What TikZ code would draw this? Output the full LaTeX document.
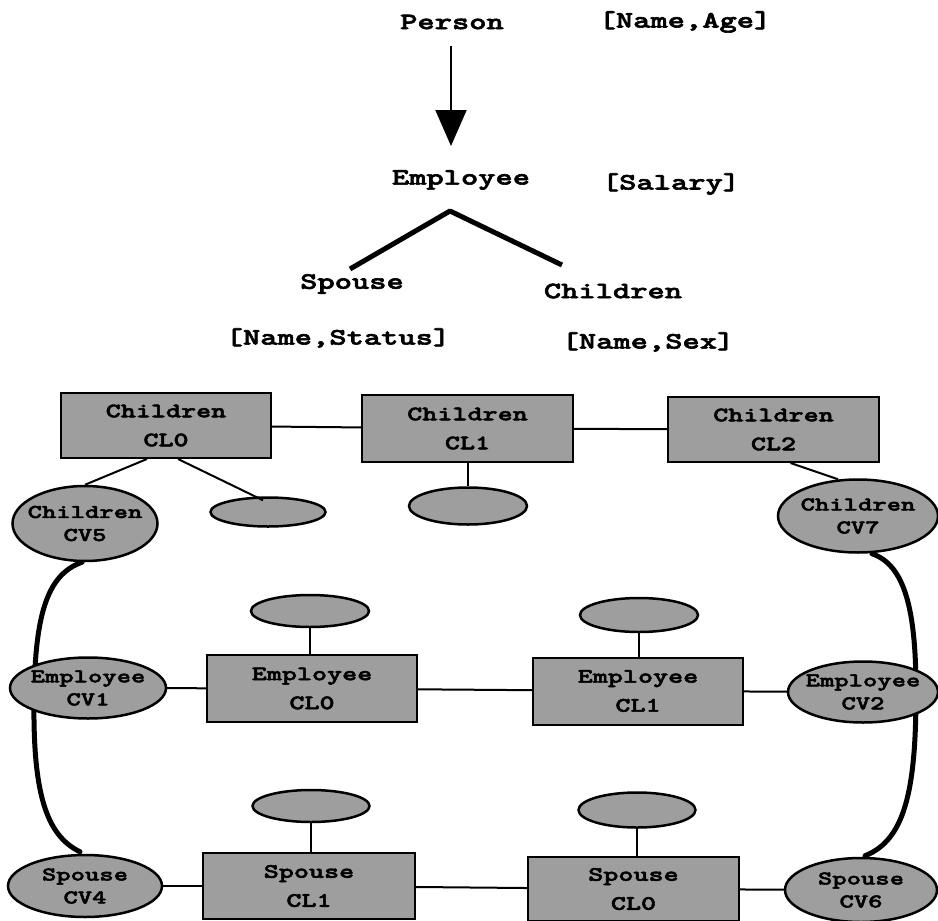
\documentclass[tikz,border=0pt]{standalone}
\usepackage{fontspec}
\newfontfamily\cour{lmmonolt10-bold.otf}[FakeStretch=1.4,FakeBold=2.5]
\usetikzlibrary{shapes.geometric,arrows.meta,backgrounds}
\definecolor{boxgray}{gray}{0.62}
\begin{document}
\begin{tikzpicture}[x=1pt,y=-1pt,
  lbl/.style={font=\cour\fontsize{23.5}{28}\selectfont, inner sep=0},
  cls/.style={draw, line width=2pt, fill=boxgray, inner sep=0, align=center,
    font=\cour\fontsize{20.5}{29}\selectfont},
  cv/.style={ellipse, draw, line width=2.5pt, fill=boxgray, inner sep=0},
  vtext/.style={align=center, inner sep=0, font=\cour\fontsize{19.5}{23}\selectfont},
  link/.style={line width=2pt},
  thick link/.style={line width=5pt, line cap=round}
]
\useasboundingbox (0,0) rectangle (938,921);

% ---- hierarchy at top ----
\node[lbl] (person) at (452,22) {Person};
\node[lbl] (nameage) at (685,22) {[Name,Age]};
\node[lbl] (employee) at (461,180) {Employee};
\node[lbl] (salary) at (671,184) {[Salary]};
\node[lbl] (spouse) at (352,284) {Spouse};
\node[lbl] (children) at (613,291) {Children};
\node[lbl] (namestatus) at (338,338) {[Name,Status]};
\node[lbl] (namesex) at (648,342) {[Name,Sex]};

\coordinate (a1) at (451,46);
\coordinate (a2) at (451,146);
\draw[line width=2pt, -{Triangle[length=36pt,width=31pt]}] (a1) -- (a2);

\coordinate (apex) at (450,211);
\coordinate (vl) at (350,269);
\coordinate (vr) at (562,265);
\draw[line width=5pt, line join=round] (vl) -- (apex) -- (vr);

% ---- row 1: Children classes ----
\node[cls, minimum width=210pt, minimum height=65pt] (ccl0) at (166,425.5) {Children\\CL0};
\node[cls, minimum width=211pt, minimum height=67pt] (ccl1) at (467.5,428.5) {Children\\CL1};
\node[cls, minimum width=211pt, minimum height=65pt] (ccl2) at (773.5,429.5) {Children\\CL2};
\node[cv, minimum width=145pt, minimum height=75pt, label={[vtext]center:{Children\\CV5}}] (cv5) at (85,523.5) {};
\node[cv, minimum width=115pt, minimum height=29pt] (e1) at (268,512) {};
\node[cv, minimum width=118pt, minimum height=37pt] (e2) at (468,506) {};
\node[cv, minimum width=160pt, minimum height=73pt, label={[vtext]center:{Children\\CV7}}] (cv7) at (858,516) {};

% ---- row 2: Employee classes ----
\node[cv, minimum width=156pt, minimum height=61pt, label={[vtext]center:{Employee\\CV1}}] (cv1) at (88,688) {};
\node[cls, minimum width=210pt, minimum height=67pt] (ecl0) at (312,688.5) {Employee\\CL0};
\node[cv, minimum width=118pt, minimum height=32pt] (e3) at (310,611) {};
\node[cls, minimum width=210pt, minimum height=67pt] (ecl1) at (638,691) {Employee\\CL1};
\node[cv, minimum width=118pt, minimum height=34pt] (e4) at (639,615) {};
\node[cv, minimum width=150pt, minimum height=61pt, label={[vtext]center:{Employee\\CV2}}] (cv2) at (863,692) {};

% ---- row 3: Spouse classes ----
\node[cv, minimum width=154pt, minimum height=62pt, label={[vtext]center:{Spouse\\CV4}}] (cv4) at (85,886) {};
\node[cls, minimum width=212pt, minimum height=66pt] (scl1) at (309,886) {Spouse\\CL1};
\node[cv, minimum width=117pt, minimum height=32pt] (e5) at (311,806) {};
\node[cls, minimum width=211pt, minimum height=64pt] (scl0) at (633.5,889) {Spouse\\CL0};
\node[cv, minimum width=117pt, minimum height=35pt] (e6) at (637,810) {};
\node[cv, minimum width=152pt, minimum height=64pt, label={[vtext]center:{Spouse\\CV6}}] (cv6) at (861,890) {};

% ---- connectors ----
\draw[link] (ccl0) -- (ccl1);
\draw[link] (ccl1) -- (ccl2);
\draw[link] ([xshift=-19pt]ccl0.south) -- (cv5.north);
\draw[link] ([xshift=12pt]ccl0.south) -- ([xshift=-5pt,yshift=-4pt]e1.north);
\draw[link] (ccl1.south -| e2) -- (e2.north);
\draw[link] ([xshift=17pt]ccl2.south) -- ([xshift=-20pt,yshift=-1pt]cv7.north);

\draw[link] (cv1) -- (ecl0);
\draw[link] (ecl0) -- (ecl1);
\draw[link] (ecl1) -- (cv2);
\draw[link] (e3.south) -- (e3.south |- ecl0.north);
\draw[link] (e4.south) -- (e4.south |- ecl1.north);

\draw[link] (cv4) -- (scl1);
\draw[link] (scl1) -- (scl0);
\draw[link] (scl0) -- (cv6);
\draw[link] (e5.south) -- (e5.south |- scl1.north);
\draw[link] (e6.south) -- (e6.south |- scl0.north);

\begin{pgfonlayer}{background}
\draw[thick link] ([xshift=-3pt]cv5.south) .. controls (45,575) and (35,620) .. (34,700)
  .. controls (33,790) and (45,835) .. ([xshift=-5pt,yshift=2pt]cv4.north);
\draw[thick link] ([xshift=14pt]cv7.south) .. controls (905,565) and (916,610) .. (916,692)
  .. controls (916,790) and (905,840) .. ([xshift=4pt,yshift=1pt]cv6.north);
\end{pgfonlayer}
\end{tikzpicture}
\end{document}
